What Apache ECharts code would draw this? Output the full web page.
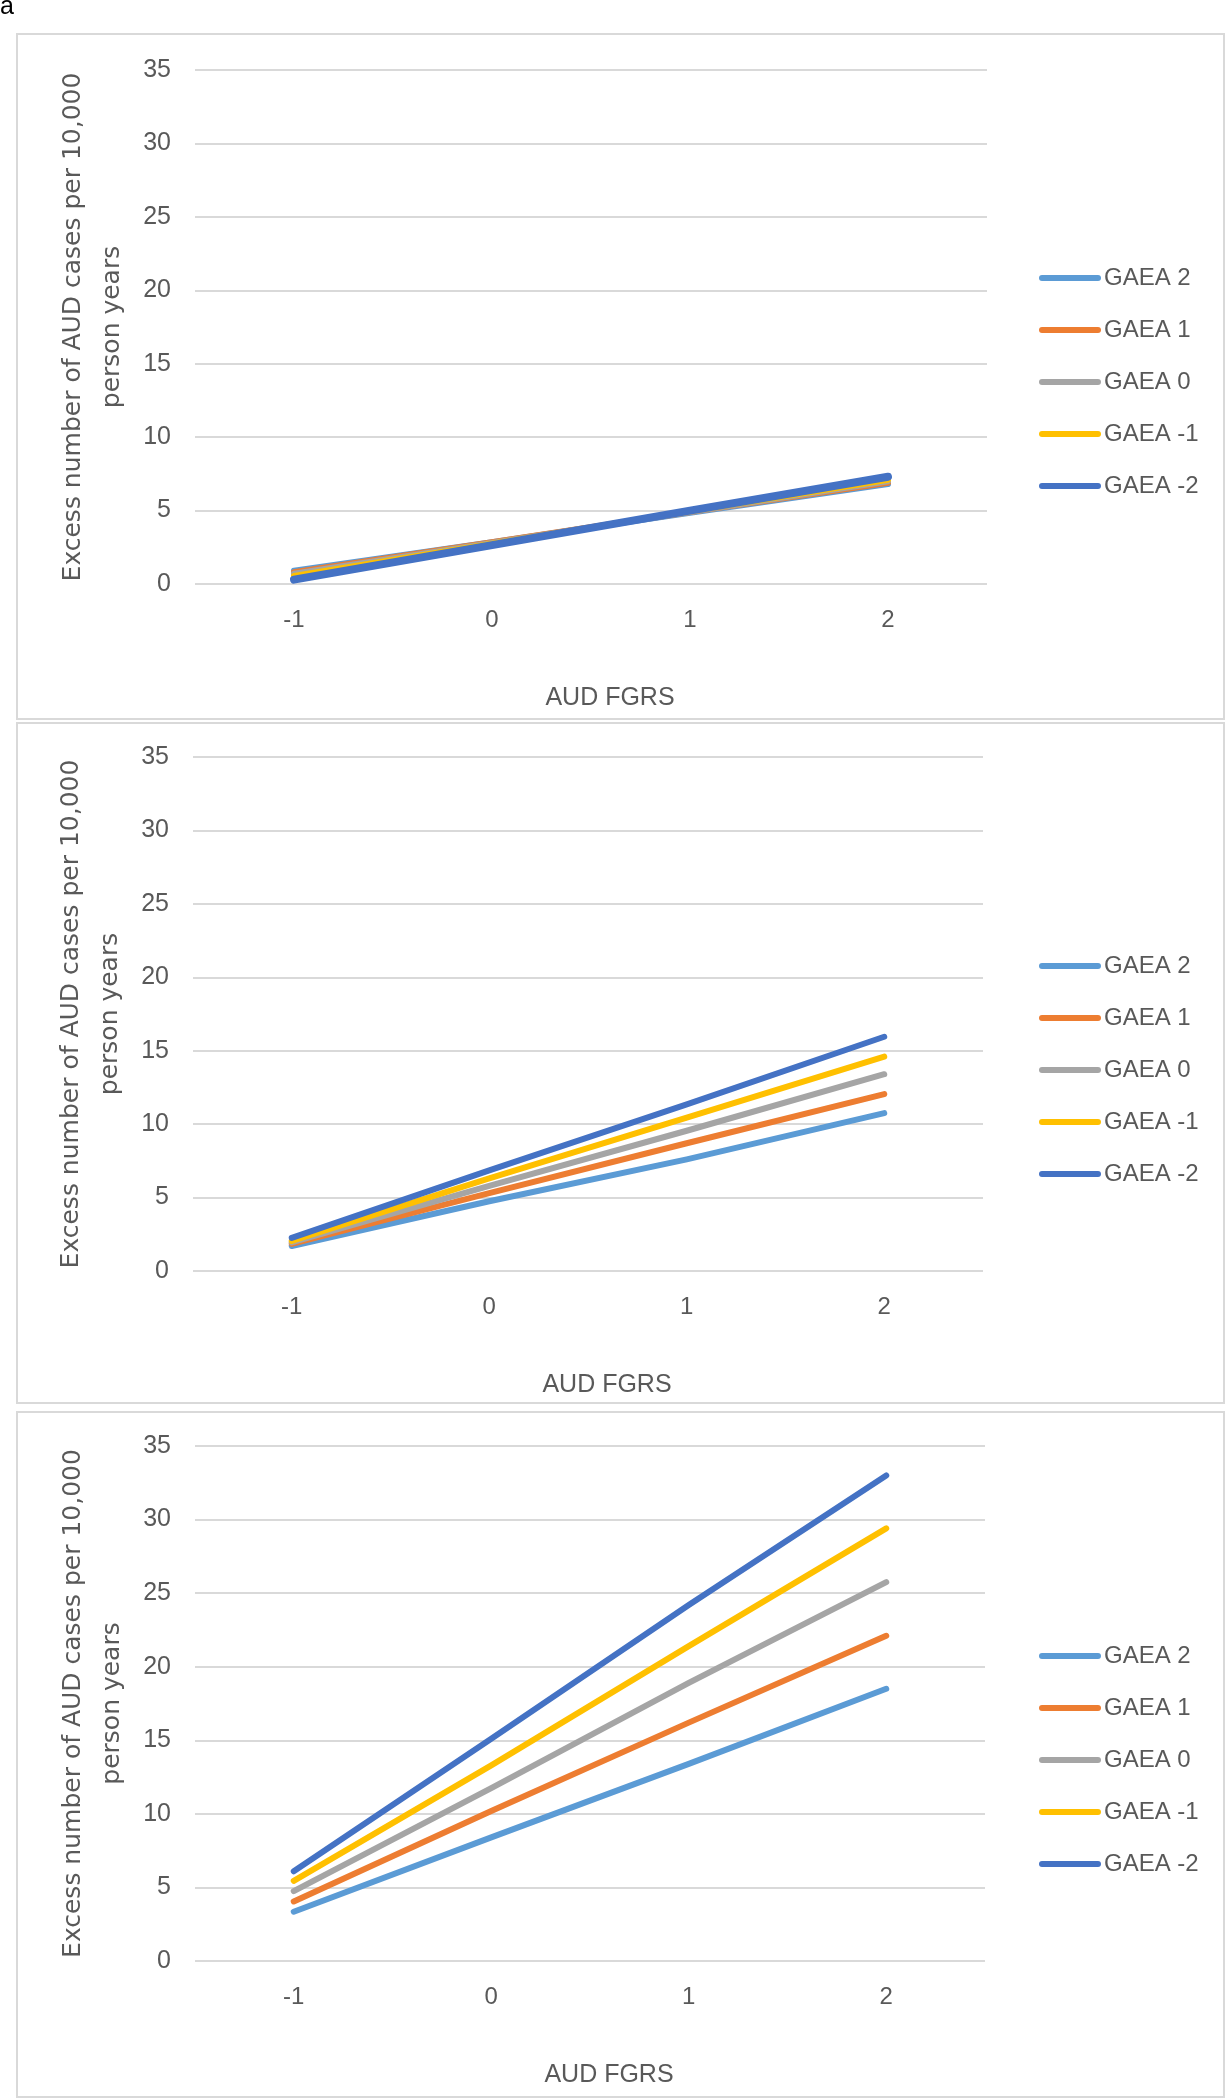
<!DOCTYPE html>
<html>
<head>
<meta charset="utf-8">
<script src="https://cdn.jsdelivr.net/npm/echarts@6/dist/echarts.min.js"></script>
<style>
  html, body { margin: 0; padding: 0; background: #ffffff; }
  #chart { width: 1228px; height: 2100px; }
</style>
</head>
<body>
<div id="chart"></div>
<script>
// ---------- data ----------
const categories = ['-1', '0', '1', '2'];
const seriesNames = ['GAEA 2', 'GAEA 1', 'GAEA 0', 'GAEA -1', 'GAEA -2'];
const yMin = 0, yMax = 35, yStep = 5;
const xAxisTitle = 'AUD FGRS';
const yAxisTitle = 'Excess number of AUD cases per 10,000\nperson years';

// panel 1 (top)
const p1_gaea2  = [0.9, 2.85, 4.85, 6.8];
const p1_gaea1  = [0.8, 2.85, 4.9, 6.9];
const p1_gaea0  = [0.7, 2.8, 4.9, 7.0];
const p1_gaeaM1 = [0.55, 2.75, 4.95, 7.1];
const p1_gaeaM2 = [0.3, 2.65, 5.0, 7.3];

// panel 2 (middle)
const p2_gaea2  = [1.7, 4.75, 7.6, 10.75];
const p2_gaea1  = [1.85, 5.3, 8.7, 12.05];
const p2_gaea0  = [1.95, 5.8, 9.55, 13.4];
const p2_gaeaM1 = [2.05, 6.3, 10.45, 14.6];
const p2_gaeaM2 = [2.25, 6.85, 11.35, 15.95];

// panel 3 (bottom)
const p3_gaea2  = [3.35, 8.4, 13.4, 18.5];
const p3_gaea1  = [4.05, 10.2, 16.2, 22.1];
const p3_gaea0  = [4.75, 11.75, 18.9, 25.75];
const p3_gaeaM1 = [5.45, 13.3, 21.4, 29.4];
const p3_gaeaM2 = [6.1, 15.1, 24.2, 33.0];

const panelData = [
  [p1_gaea2, p1_gaea1, p1_gaea0, p1_gaeaM1, p1_gaeaM2],
  [p2_gaea2, p2_gaea1, p2_gaea0, p2_gaeaM1, p2_gaeaM2],
  [p3_gaea2, p3_gaea1, p3_gaea0, p3_gaeaM1, p3_gaeaM2]
];

// ---------- styling / layout ----------
const colors = ['#5B9BD5', '#ED7D31', '#A5A5A5', '#FFC000', '#4472C4'];
const FONT = "'Liberation Sans', Arial, sans-serif";
const TITLE_FONT = "'DejaVu Sans', Verdana, sans-serif";
const TXT = '#595959';
const GRID_LINE = '#D9D9D9';

const grids = [
  { left: 195, top: 70, width: 792, height: 514 },
  { left: 193, top: 757, width: 790, height: 514 },
  { left: 195, top: 1446, width: 790, height: 515 }
];
const legendTops = [260, 948, 1638];
const panelBoxes = [
  { y: 34, h: 685 },
  { y: 723, h: 680 },
  { y: 1412, h: 685 }
];

const capsule = 'path://M3,0 L59,0 A3,3 0 0 1 59,6 L3,6 A3,3 0 0 1 3,0 Z';

const option = {
  animation: false,
  backgroundColor: '#ffffff',
  grid: grids.map(g => Object.assign({ containLabel: false }, g)),
  xAxis: grids.map((g, i) => ({
    type: 'category',
    gridIndex: i,
    data: categories,
    boundaryGap: true,
    axisLine: { show: false },
    axisTick: { show: false },
    axisLabel: { color: TXT, fontFamily: FONT, fontSize: 24, margin: 24 },
    name: xAxisTitle,
    nameLocation: 'middle',
    nameGap: 102,
    nameTextStyle: { color: TXT, fontFamily: FONT, fontSize: 25, padding: [0, 0, 0, 38] },
    splitLine: { show: false }
  })),
  yAxis: grids.map((g, i) => ({
    type: 'value',
    gridIndex: i,
    min: yMin,
    max: yMax,
    interval: yStep,
    axisLine: { show: false },
    axisTick: { show: false },
    axisLabel: { color: TXT, fontFamily: FONT, fontSize: 25, margin: 24 },
    splitLine: { show: true, lineStyle: { color: GRID_LINE, width: 2 } },
    name: yAxisTitle,
    nameLocation: 'middle',
    nameGap: 62,
    nameTextStyle: { color: TXT, fontFamily: TITLE_FONT, fontSize: 25, lineHeight: 39, align: 'center' }
  })),
  legend: legendTops.map((t, i) => ({
    orient: 'vertical',
    left: 1034,
    top: t,
    itemWidth: 62,
    itemHeight: i === 0 ? 7 : 6,
    itemGap: 26,
    icon: capsule,
    itemStyle: { borderWidth: 0 },
    textStyle: { color: TXT, fontFamily: FONT, fontSize: 24, lineHeight: 26, padding: [0, 0, 0, -2] },
    data: seriesNames,
    selectedMode: false
  })),
  series: [],
  graphic: []
};

panelData.forEach((arrs, pi) => {
  arrs.forEach((vals, si) => {
    option.series.push({
      type: 'line',
      name: seriesNames[si],
      xAxisIndex: pi,
      yAxisIndex: pi,
      data: vals,
      symbol: 'none',
      smooth: false,
      color: colors[si],
      lineStyle: { color: colors[si], width: (pi === 0 && si === 4) ? 8 : 6, cap: 'round', join: 'round' },
      z: 2 + si
    });
  });
});

panelBoxes.forEach(b => {
  option.graphic.push({
    type: 'rect',
    shape: { x: 17, y: b.y, width: 1207, height: b.h },
    style: { fill: 'none', stroke: GRID_LINE, lineWidth: 2 },
    silent: true,
    z: 0
  });
});
option.graphic.push({
  type: 'text',
  left: 0,
  top: -5,
  style: { text: 'a', fill: '#000000', font: "25px 'Liberation Sans', Arial, sans-serif" },
  silent: true
});

const chart = echarts.init(document.getElementById('chart'), null, { renderer: 'canvas', width: 1228, height: 2100 });
chart.setOption(option);
</script>
</body>
</html>
